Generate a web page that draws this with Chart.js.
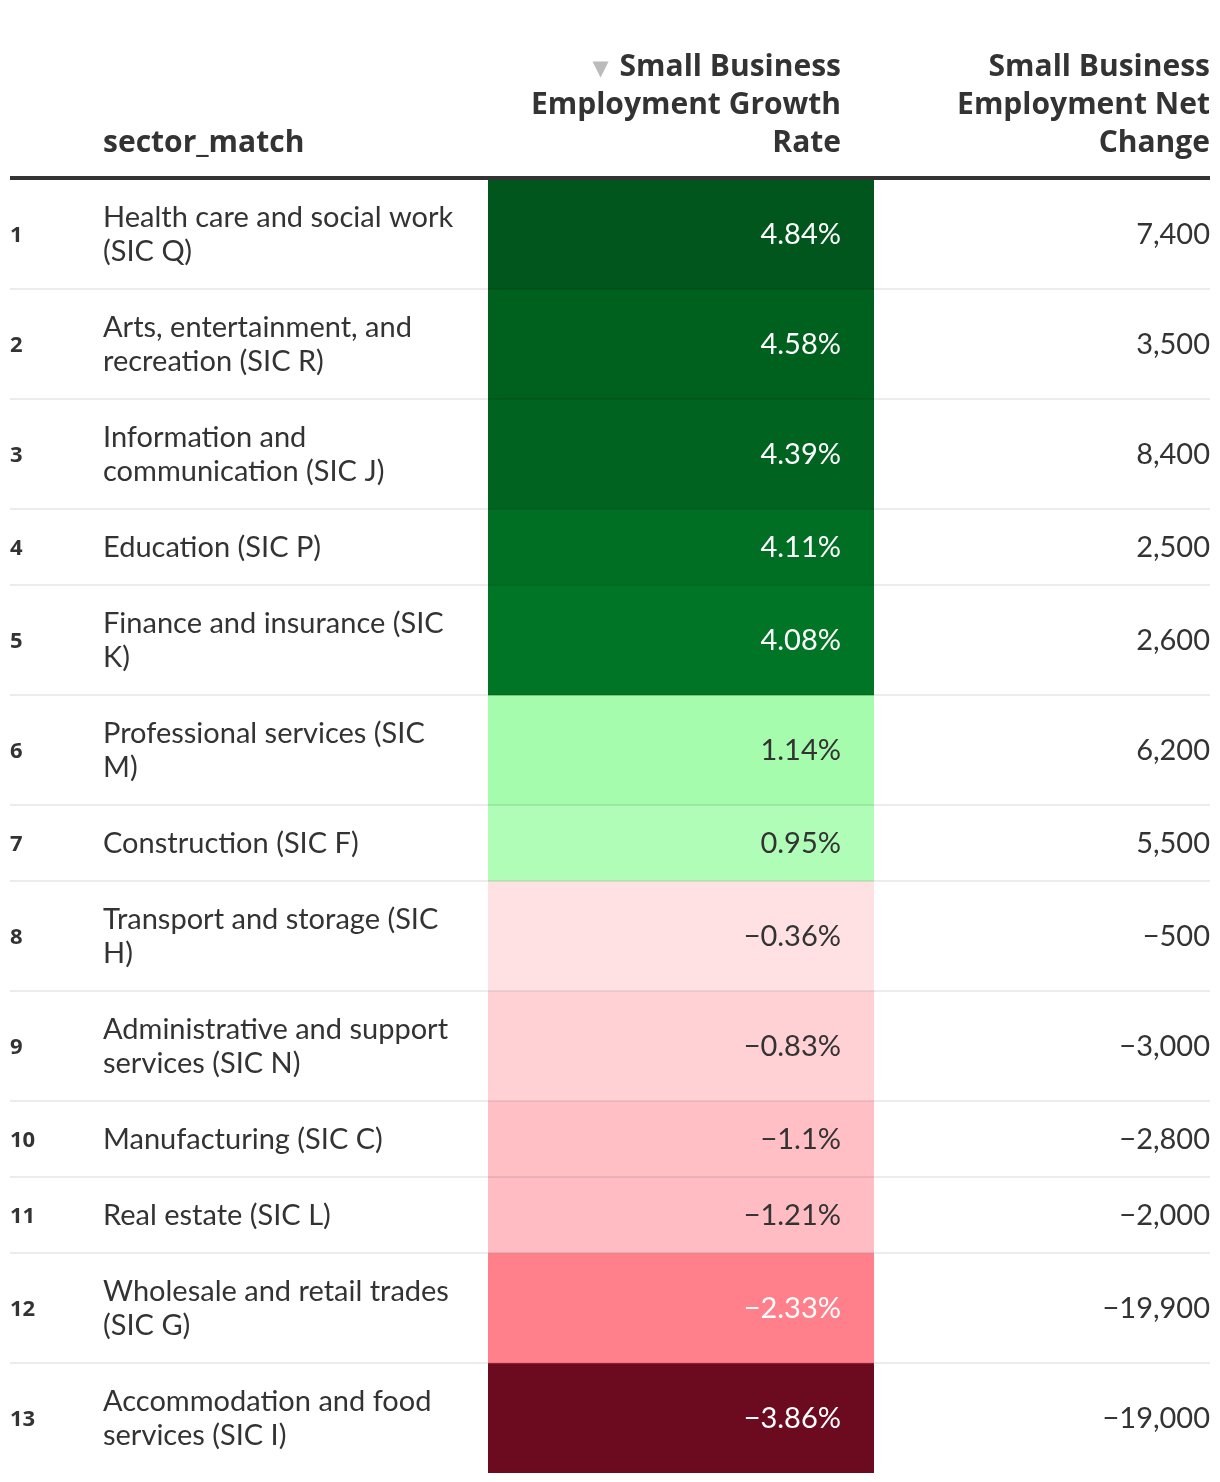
<!DOCTYPE html>
<html>
<head>
<meta charset="utf-8">
<script src="https://cdn.jsdelivr.net/npm/chart.js@4.4.1/dist/chart.umd.min.js"></script>
<style>
  html, body { margin: 0; padding: 0; background: #ffffff; }
  #wrap { position: relative; width: 1220px; height: 1482px; }
</style>
</head>
<body>
<div id="wrap"><canvas id="c" width="1220" height="1482"></canvas></div>
<script>
// ---------- data ----------
const ranks = [1, 2, 3, 4, 5, 6, 7, 8, 9, 10, 11, 12, 13];
const sectors = [
  "Health care and social work (SIC Q)",
  "Arts, entertainment, and recreation (SIC R)",
  "Information and communication (SIC J)",
  "Education (SIC P)",
  "Finance and insurance (SIC K)",
  "Professional services (SIC M)",
  "Construction (SIC F)",
  "Transport and storage (SIC H)",
  "Administrative and support services (SIC N)",
  "Manufacturing (SIC C)",
  "Real estate (SIC L)",
  "Wholesale and retail trades (SIC G)",
  "Accommodation and food services (SIC I)"
];
const growthRate = [4.84, 4.58, 4.39, 4.11, 4.08, 1.14, 0.95, -0.36, -0.83, -1.1, -1.21, -2.33, -3.86];
const netChange = [7400, 3500, 8400, 2500, 2600, 6200, 5500, -500, -3000, -2800, -2000, -19900, -19000];
const headerSector = "sector_match";
const headerGrowth = "Small Business Employment Growth Rate";
const headerNet = "Small Business Employment Net Change";

// ---------- style ----------
const BODY_FAMILY = "Lato, 'Noto Sans', sans-serif";
const HEAD_FAMILY = "'Open Sans', 'Noto Sans', sans-serif";
const BODY = 29, HEAD = 30, RANK = 22;
const TEXT = "#333333";
const colorStops = [
  [-3.86, [108, 10, 32]],
  [-2.33, [255, 127, 138]],
  [-1.21, [255, 188, 195]],
  [-1.10, [255, 191, 197]],
  [-0.83, [255, 208, 212]],
  [-0.36, [255, 224, 227]],
  [0.95, [176, 253, 184]],
  [1.14, [164, 252, 172]],
  [4.08, [0, 117, 38]],
  [4.11, [0, 111, 36]],
  [4.39, [0, 99, 31]],
  [4.58, [0, 96, 30]],
  [4.84, [0, 86, 28]]
];
function colorFor(v) {
  if (v <= colorStops[0][0]) return colorStops[0][1];
  for (let i = 1; i < colorStops.length; i++) {
    const [v1, c1] = colorStops[i];
    const [v0, c0] = colorStops[i - 1];
    if (v <= v1) {
      const t = (v - v0) / (v1 - v0);
      return c0.map((c, k) => Math.round(c + (c1[k] - c) * t));
    }
  }
  return colorStops[colorStops.length - 1][1];
}
function rgb(c) { return `rgb(${c[0]},${c[1]},${c[2]})`; }
function lum(c) {
  const l = c.map(x => { x /= 255; return x <= 0.03928 ? x / 12.92 : Math.pow((x + 0.055) / 1.055, 2.4); });
  return 0.2126 * l[0] + 0.7152 * l[1] + 0.0722 * l[2];
}
const MINUS = "\u2212";
function fmtPct(v) { return (v < 0 ? MINUS : "") + String(Math.abs(v)) + "%"; }
function fmtNum(v) { return (v < 0 ? MINUS : "") + Math.abs(v).toLocaleString("en-US"); }

// ---------- text wrapping (layout) ----------
const mctx = document.createElement("canvas").getContext("2d");
function wrap(text, font, maxW) {
  mctx.font = font;
  const words = text.split(" ");
  const lines = [];
  let cur = "";
  for (const w of words) {
    const t = cur ? cur + " " + w : w;
    if (cur && mctx.measureText(t).width > maxW) { lines.push(cur); cur = w; }
    else cur = t;
  }
  if (cur) lines.push(cur);
  return lines;
}
const bodyFont = `400 ${BODY}px ${BODY_FAMILY}`;
const headFont = `700 ${HEAD}px ${HEAD_FAMILY}`;
const rankFont = `700 ${RANK}px ${HEAD_FAMILY}`;
const labelLines = sectors.map(s => wrap(s, bodyFont, 357));
const LINE = 34, PADV = 42;
const rowBounds = [];
let acc = 0;
labelLines.forEach(l => { const h = l.length * LINE + PADV; rowBounds.push([acc, acc + h]); acc += h; });
const total = acc;

const TOP = 179, CELL_L = 488, CELL_R = 874, W = 1220, H = 1482;

// ---------- overlay plugin: table text & rules ----------
const tablePlugin = {
  id: "tableText",
  afterDatasetsDraw(chart) {
    const ctx = chart.ctx, ys = chart.scales.y;
    ctx.save();
    // row separators
    ctx.fillStyle = "rgba(0,0,0,0.075)";
    rowBounds.forEach((b, i) => {
      if (i === rowBounds.length - 1) return;
      const y = ys.getPixelForValue(b[1]);
      ctx.fillRect(10, y - 1, 1200, 2);
    });
    // header rule
    ctx.fillStyle = "#333333";
    ctx.fillRect(10, 176, 1200, 4);

    // header text
    ctx.fillStyle = TEXT;
    ctx.font = headFont;
    ctx.textBaseline = "alphabetic";
    const hl2 = wrap(headerGrowth, headFont, 330);
    const hl3 = wrap(headerNet, headFont, 320);
    const hBase = 152, hLine = 38;
    ctx.textAlign = "left";
    ctx.fillText(headerSector, 103, hBase);
    ctx.textAlign = "right";
    hl2.forEach((l, i) => ctx.fillText(l, 841, hBase - (hl2.length - 1 - i) * hLine));
    hl3.forEach((l, i) => ctx.fillText(l, 1210, hBase - (hl3.length - 1 - i) * hLine));
    // sort indicator
    const firstW = ctx.measureText(hl2[0]).width;
    ctx.fillStyle = "#bbbbbb";
    ctx.font = `21px 'DejaVu Sans'`;
    ctx.textAlign = "right";
    ctx.fillText("\u25BC", 841 - firstW - 11, hBase - (hl2.length - 1) * hLine - 1);

    // body rows
    rowBounds.forEach((b, i) => {
      const y0 = ys.getPixelForValue(b[0]), y1 = ys.getPixelForValue(b[1]);
      const cy = (y0 + y1) / 2;
      ctx.textAlign = "left";
      ctx.fillStyle = TEXT;
      ctx.font = rankFont;
      ctx.fillText(String(ranks[i]), 10, cy + 8);
      ctx.font = bodyFont;
      const ls = labelLines[i];
      ls.forEach((l, k) => {
        const ly = cy + (k - (ls.length - 1) / 2) * LINE;
        ctx.fillText(l, 103, ly + 10);
      });
      ctx.textAlign = "right";
      const bg = colorFor(growthRate[i]);
      ctx.fillStyle = lum(bg) < 0.45 ? "#ffffff" : TEXT;
      ctx.fillText(fmtPct(growthRate[i]), 841, cy + 10);
      ctx.fillStyle = TEXT;
      ctx.fillText(fmtNum(netChange[i]), 1210, cy + 10);
    });
    ctx.restore();
  }
};

// ---------- chart: heatmap cells as floating bars ----------
const datasets = growthRate.map((v, i) => ({
  label: sectors[i],
  data: [rowBounds[i]],
  backgroundColor: rgb(colorFor(v)),
  borderWidth: 0,
  borderSkipped: false,
  barPercentage: 1,
  categoryPercentage: 1,
  grouped: false
}));

new Chart(document.getElementById("c"), {
  type: "bar",
  data: { labels: ["Small Business Employment Growth Rate"], datasets },
  options: {
    responsive: false,
    animation: false,
    devicePixelRatio: 1,
    layout: { padding: { left: CELL_L, right: W - CELL_R, top: TOP, bottom: H - TOP - total } },
    plugins: { legend: { display: false }, tooltip: { enabled: false } },
    scales: {
      x: { display: false, type: "category", grid: { display: false } },
      y: { display: false, type: "linear", min: 0, max: total, reverse: true, grid: { display: false } }
    }
  },
  plugins: [tablePlugin]
});
</script>
</body>
</html>
